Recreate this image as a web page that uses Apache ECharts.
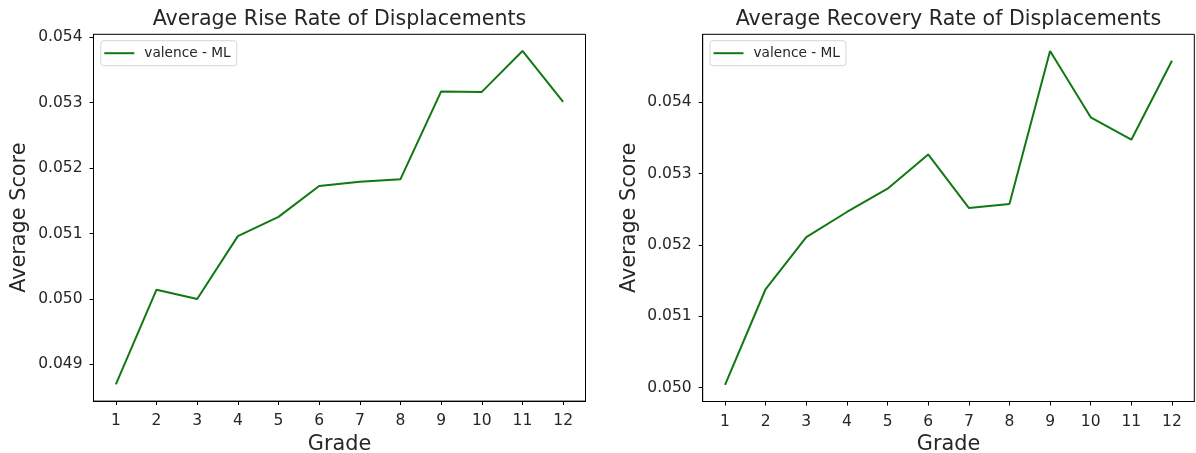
<!DOCTYPE html>
<html>
<head>
<meta charset="utf-8">
<script src="https://cdn.jsdelivr.net/npm/echarts@6/dist/echarts.min.js"></script>
<style>
html,body{margin:0;padding:0;background:#fff;}
#chart{width:1196px;height:453px;}
</style>
</head>
<body>
<div id="chart"></div>
<script>
// ---- data ----
var grades = [1, 2, 3, 4, 5, 6, 7, 8, 9, 10, 11, 12];
var riseRate = [0.048695, 0.050142, 0.050000, 0.050959, 0.051254, 0.051725, 0.051790, 0.051830, 0.053170, 0.053162, 0.053787, 0.053010];
var recoveryRate = [0.050040, 0.051383, 0.052110, 0.052463, 0.052790, 0.053270, 0.052520, 0.052575, 0.054720, 0.053790, 0.053476, 0.054583];
var riseTicks = [0.049, 0.050, 0.051, 0.052, 0.053, 0.054];
var recoveryTicks = [0.050, 0.051, 0.052, 0.053, 0.054];
var titles = ['Average Rise Rate of Displacements', 'Average Recovery Rate of Displacements'];
var seriesName = 'valence - ML';
var xLabel = 'Grade';
var yLabel = 'Average Score';

var FONT = 'DejaVu Sans';
var TXT = '#262626';
var LINE = '#127812';

function pairs(xs, ys) { return xs.map(function (x, i) { return [x, ys[i]]; }); }
function lims(v) {
  var mn = Math.min.apply(null, v), mx = Math.max.apply(null, v), r = mx - mn;
  return [mn - 0.05 * r, mx + 0.05 * r];
}
var xr = lims(grades);
var grids = [
  {left: 93.5, top: 34.3, width: 492, height: 366.8},
  {left: 702.7, top: 34.3, width: 491.6, height: 367.2}
];
var ys = [riseRate, recoveryRate];
var yt = [riseTicks, recoveryTicks];

var option = {
  backgroundColor: '#fff',
  animation: false,
  title: grids.map(function (g, i) {
    return {
      text: titles[i], left: g.left + g.width / 2, top: 9, textAlign: 'center', padding: 0,
      textStyle: {fontFamily: FONT, fontSize: 20.6, fontWeight: 'normal', color: TXT}
    };
  }),
  legend: grids.map(function (g, i) {
    return {
      data: [{name: seriesName, icon: 'rect'}],
      left: g.left + 7.3, top: 40.7,
      orient: 'vertical',
      itemWidth: 30, itemHeight: 2,
      padding: [5, 6, 5, 3.5],
      backgroundColor: 'rgba(255,255,255,0.8)',
      borderColor: '#d6d6d6', borderWidth: 1, borderRadius: 3,
      textStyle: {fontFamily: FONT, fontSize: 13.7, color: TXT, padding: [0, 0, 0, 5], lineHeight: 15},
      itemStyle: {color: LINE, borderWidth: 0},
      selectedMode: false,
      seriesIndex: [i]
    };
  }),
  grid: grids.map(function (g) {
    return {left: g.left, top: g.top, width: g.width, height: g.height, show: true,
      borderColor: '#000', borderWidth: 1, backgroundColor: 'transparent',
      containLabel: false, outerBoundsMode: 'none'};
  }),
  xAxis: grids.map(function (g, i) {
    return {
      type: 'value', gridIndex: i, min: xr[0], max: xr[1],
      name: xLabel, nameLocation: 'middle', nameGap: 30,
      nameTextStyle: {fontFamily: FONT, fontSize: 20.8, color: TXT},
      axisLine: {show: true, onZero: false, lineStyle: {color: '#000', width: 1}},
      axisTick: {show: true, inside: false, length: 4, lineStyle: {color: '#000'}, customValues: grades},
      axisLabel: {fontFamily: FONT, fontSize: 15.5, color: TXT, margin: 12, customValues: grades,
        formatter: function (v) { return String(v); }},
      splitLine: {show: false}
    };
  }),
  yAxis: grids.map(function (g, i) {
    var r = lims(ys[i]);
    return {
      type: 'value', gridIndex: i, min: r[0], max: r[1],
      name: yLabel, nameLocation: 'middle', nameGap: 63,
      nameTextStyle: {fontFamily: FONT, fontSize: 20.8, color: TXT},
      axisLine: {show: true, onZero: false, lineStyle: {color: '#000', width: 1}},
      axisTick: {show: true, inside: false, length: 4, lineStyle: {color: '#000'}, customValues: yt[i]},
      axisLabel: {fontFamily: FONT, fontSize: 15.5, color: TXT, margin: 11, customValues: yt[i],
        formatter: function (v) { return v.toFixed(3); }},
      splitLine: {show: false}
    };
  }),
  series: ys.map(function (arr, i) {
    return {
      name: seriesName, type: 'line', xAxisIndex: i, yAxisIndex: i,
      data: pairs(grades, arr),
      symbol: 'none', showSymbol: false,
      lineStyle: {color: LINE, width: 2},
      itemStyle: {color: LINE}
    };
  })
};

var chart = echarts.init(document.getElementById('chart'), null, {renderer: 'canvas'});
chart.setOption(option);
</script>
</body>
</html>
